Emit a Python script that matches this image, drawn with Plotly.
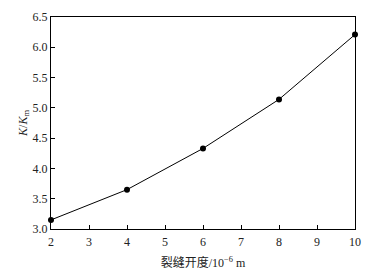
import plotly.graph_objects as go

x_vals = [2, 4, 6, 8, 10]
k_ratio = [3.15, 3.65, 4.33, 5.14, 6.21]
x_ticks = [2, 3, 4, 5, 6, 7, 8, 9, 10]
y_ticks = [3.0, 3.5, 4.0, 4.5, 5.0, 5.5, 6.0, 6.5]

fig = go.Figure()
fig.add_trace(go.Scatter(
    x=x_vals, y=k_ratio, mode="lines+markers",
    line=dict(color="black", width=1),
    marker=dict(color="black", size=6),
    cliponaxis=False,
))

# the page body has an 8px default margin, so the figure is sized to fit
font_main = "Liberation Serif, Times New Roman, serif"
fig.update_layout(
    width=365, height=268,
    margin=dict(l=43, r=18, t=9, b=47),
    plot_bgcolor="white", paper_bgcolor="white",
    showlegend=False,
    font=dict(family=font_main, size=12, color="#222"),
)
fig.update_xaxes(
    range=[2, 10], tickvals=x_ticks, ticktext=[str(t) for t in x_ticks],
    ticks="inside", ticklen=4, tickwidth=1, tickcolor="black",
    showline=True, linecolor="black", linewidth=1, mirror=True,
    showgrid=False, zeroline=False, automargin=False, ticklabelstandoff=2,
    title=dict(text="<span style='font-family:Noto Sans CJK SC'>裂缝开度</span>/10<sup>−6</sup> m",
               font=dict(size=12), standoff=10),
)
fig.update_yaxes(
    range=[3.0, 6.5], tickvals=y_ticks, ticktext=[f"{t:.1f}" for t in y_ticks],
    ticks="inside", ticklen=4, tickwidth=1, tickcolor="black",
    showline=True, linecolor="black", linewidth=1, mirror=True,
    showgrid=False, zeroline=False, automargin=False,
    title=dict(text="<i>K</i>/<i>K</i><sub>m</sub>", font=dict(size=12), standoff=2),
)

fig.write_html("out.html")
